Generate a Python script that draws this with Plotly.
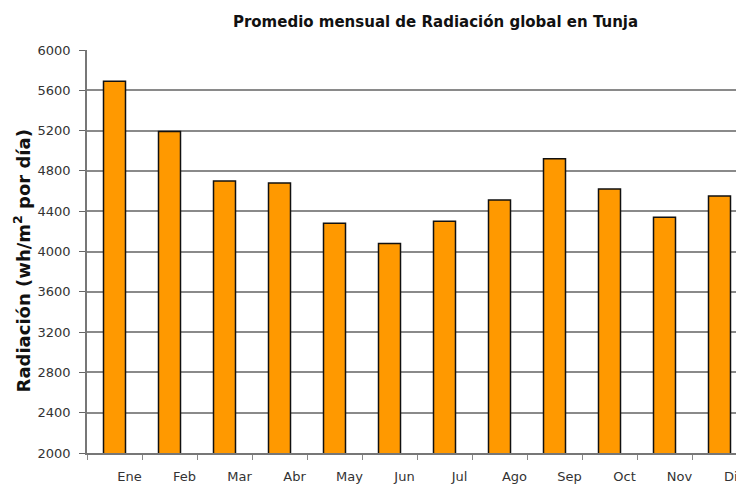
import plotly.graph_objects as go

meses = ["Ene", "Feb", "Mar", "Abr", "May", "Jun", "Jul", "Ago", "Sep", "Oct", "Nov", "Dic"]
radiacion = [5690, 5190, 4700, 4680, 4280, 4080, 4300, 4510, 4920, 4620, 4340, 4550]
y_ticks = [2000, 2400, 2800, 3200, 3600, 4000, 4400, 4800, 5200, 5600, 6000]

fig = go.Figure(go.Bar(
    x=meses, y=radiacion, width=0.4,
    marker=dict(color="#FF9900", line=dict(color="#111111", width=1.5)),
))

fig.update_layout(
    width=744, height=485,
    margin=dict(l=79, r=5, t=42, b=40),
    paper_bgcolor="white", plot_bgcolor="white",
    showlegend=False,
    title=dict(text="<b>Promedio mensual de Radiación global en Tunja</b>",
               x=0.5746, xanchor="center", y=0.971, yanchor="middle",
               font=dict(family="DejaVu Sans", size=15, color="#111111")),
    font=dict(family="DejaVu Sans", size=13, color="#333333"),
    annotations=[dict(
        text="<b>Radiación (wh/m<sup>2</sup> por día)</b>", textangle=-90,
        xref="paper", yref="paper", x=-0.097, y=0.4777,
        xanchor="center", yanchor="middle", showarrow=False,
        font=dict(family="DejaVu Sans", size=18, color="#111111"),
    )],
)
fig.update_xaxes(
    range=[-0.5, 11.5], tickson="boundaries", ticks="outside", ticklen=5,
    tickcolor="#888888", showline=True, linecolor="#777777", linewidth=1.5,
    showgrid=False, ticklabelshift=15, ticklabelstandoff=11, automargin=False,
    tickfont=dict(family="DejaVu Sans", size=13, color="#333333"),
)
fig.update_yaxes(
    range=[2000, 6000], tickvals=y_ticks, ticks="outside", ticklen=6,
    tickcolor="#666666", showline=True, linecolor="#777777", linewidth=1.5,
    showgrid=True, gridcolor="#8a8a8a", gridwidth=1.5,
    ticklabelstandoff=6, automargin=False,
    tickfont=dict(family="DejaVu Sans", size=13, color="#333333"),
)

fig.write_html("out.html")
